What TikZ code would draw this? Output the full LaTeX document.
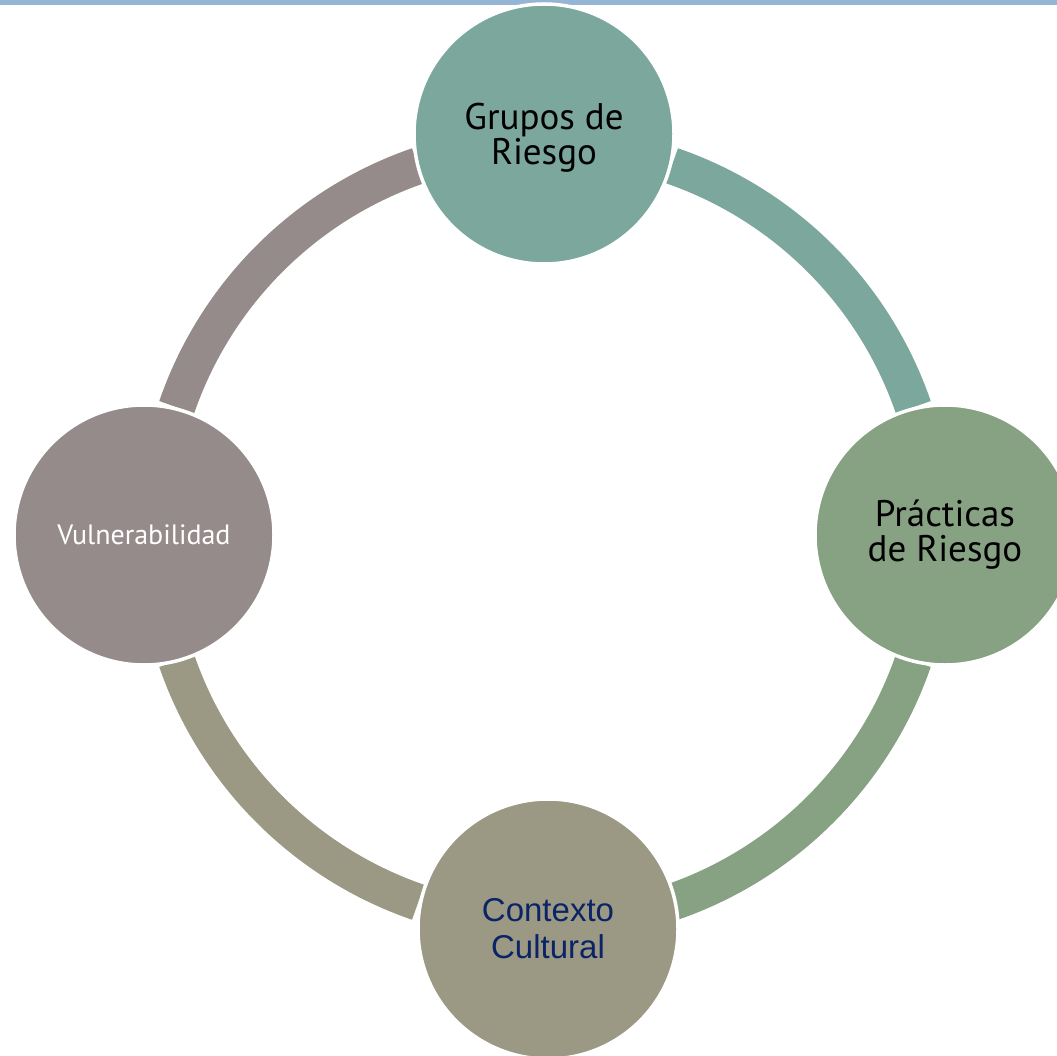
\documentclass[tikz,border=0pt]{standalone}
\usepackage{fontspec}
\setmainfont{PT Sans}
\newfontfamily\arialf{Liberation Sans}
\definecolor{barblue}{HTML}{94B6D4}
\definecolor{cteal}{HTML}{7BA79C}
\definecolor{cgreen}{HTML}{86A282}
\definecolor{ckhaki}{HTML}{9B9884}
\definecolor{cmauve}{HTML}{968B8B}
\definecolor{navy}{HTML}{0A2466}
\begin{document}
\begin{tikzpicture}[x=1pt,y=-1pt,
  bubble/.style={circle, minimum size=260pt, inner sep=0pt, draw=white, line width=3.5pt, align=center},
  ringarc/.style={line width=37pt}]
\useasboundingbox (0,0) rectangle (1057,1056);
\fill[white] (0,0) rectangle (1057,1056);
\fill[barblue] (0,0) rectangle (1057,5);
\coordinate (c) at (545,534);
% arcs
\draw[ringarc, cteal]  ([shift={(c)}]289:389.5) arc[start angle=289, end angle=341, radius=389.5];
\draw[ringarc, cgreen] ([shift={(c)}]19:389.5) arc[start angle=19, end angle=71, radius=389.5];
\draw[ringarc, ckhaki] ([shift={(c)}]109:389.5) arc[start angle=109, end angle=161, radius=389.5];
\draw[ringarc, cmauve] ([shift={(c)}]199:389.5) arc[start angle=199, end angle=251, radius=389.5];
% circles
\node[bubble, fill=cteal, font=\fontsize{37}{35}\selectfont, text=black, text depth=0pt] (grupos) at (544,134) {Grupos de\\Riesgo};
\node[bubble, fill=cgreen, font=\fontsize{37}{35}\selectfont, text=black] (practicas) at (945,535) {Prácticas\\de Riesgo};
\node[bubble, fill=ckhaki, font=\arialf\fontsize{33}{37}\selectfont, text=navy] (contexto) at (548,929) {Contexto\\Cultural};
\node[bubble, fill=cmauve, font=\fontsize{28}{33}\selectfont, text=white] (vulner) at (144,535) {Vulnerabilidad};
\end{tikzpicture}
\end{document}
